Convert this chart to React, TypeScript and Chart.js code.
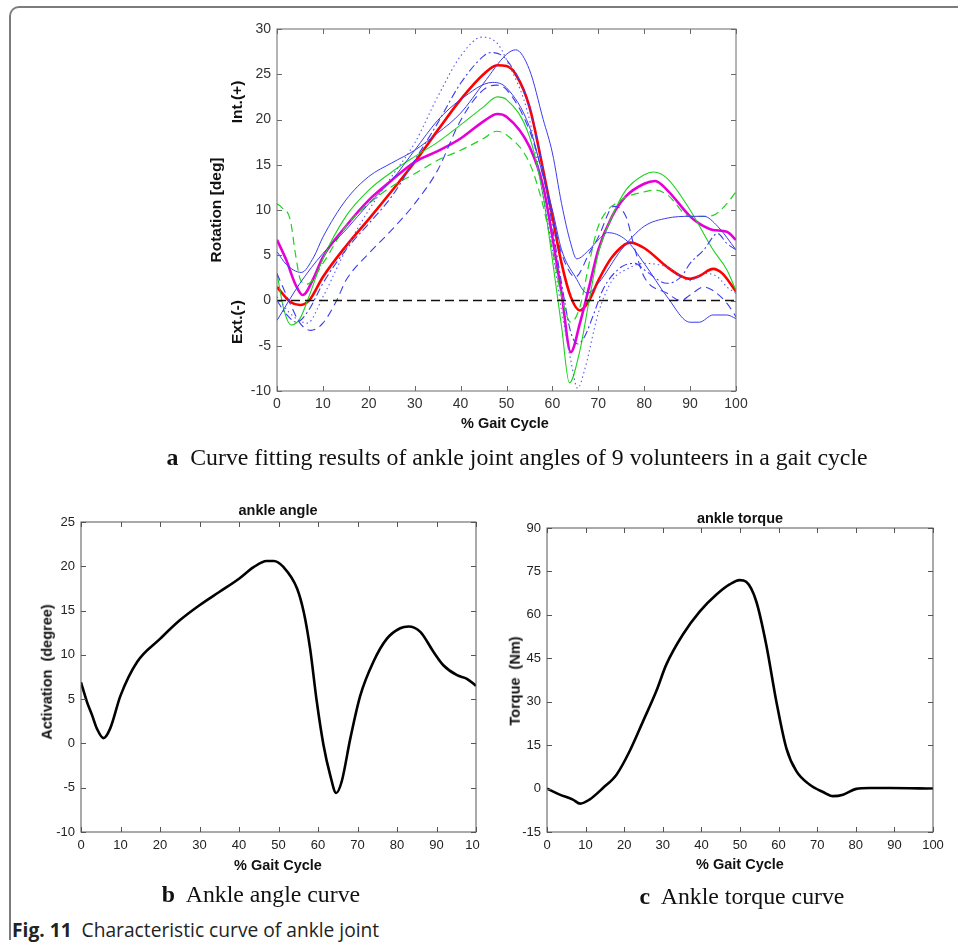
import React, { useEffect, useRef } from "react";
import { Chart, registerables } from "chart.js";
Chart.register(...registerables);

// ---------------- Panel a: 9 volunteer curves ----------------
const redX = [0, 3, 5, 7, 10, 15, 20, 25, 30, 35, 40, 45, 48, 50, 52, 55, 58, 60, 62, 64, 66, 68, 70, 73, 77, 80, 85, 88, 90, 92, 95, 97, 100];
const redY = [1.5, -0.2, -0.5, 0, 2.6, 6, 9, 12.1, 15.3, 18.8, 22.2, 25, 26, 25.9, 25, 21.4, 14.4, 9.3, 4.1, 0.4, -1.1, 0, 2.2, 4.8, 6.4, 5.8, 3.7, 2.7, 2.4, 2.7, 3.5, 3, 1];

const magentaX = [0, 2, 4, 5.6, 8, 10, 15, 20, 25, 30, 35, 40, 45, 48, 50, 55, 58, 60, 62, 64, 66, 68, 70, 73, 76, 80, 82.4, 85, 90, 92, 95, 98, 100];
const magentaY = [6.7, 4.5, 1.8, 0.6, 2.5, 4.8, 8.2, 11.1, 13.3, 15.3, 16.5, 17.9, 19.8, 20.6, 20.3, 17, 12.6, 7, 0.8, -5.7, -2.5, 1.5, 5.6, 9.3, 11.5, 12.9, 13.2, 12.2, 9.3, 8.5, 7.8, 7.6, 6.7];

const greenSolidX = [0, 1.5, 3.1, 5, 7, 10, 15, 20, 25, 30, 35, 40, 45, 48, 50, 55, 58, 60, 62, 63.7, 66, 68, 70, 73, 76, 80, 82, 85, 90, 95, 98, 100];
const greenSolidY = [3, -1, -2.7, -2, 0.5, 4.6, 9.3, 12.2, 14.2, 15.9, 17.5, 19.4, 21.4, 22.5, 22.2, 18.1, 11.5, 4.5, -2.9, -9.1, -5.5, 0, 5.2, 9.3, 12.2, 13.9, 14.2, 13.5, 10, 5.6, 3.4, 1.1];

const greenDashX = [0, 1, 2.9, 4, 5.1, 6.5, 10, 15, 20, 25, 30, 35, 40, 45, 47.8, 50, 55, 58, 60, 62, 64, 66, 68, 70, 75, 80, 82.4, 85, 90, 93, 95, 98, 100];
const greenDashY = [10.7, 10.3, 8.9, 5.2, 2.3, 1.8, 4.1, 8.2, 10.7, 12.6, 14, 15.5, 16.6, 17.9, 18.7, 18.3, 15.2, 10.4, 5.6, 0.4, -2.4, -0.7, 4.1, 8.2, 11.1, 12, 12.2, 11.7, 9.3, 9.3, 9.4, 10.7, 12];

const blueSolid1X = [0, 2, 5.3, 8, 10, 15, 20, 25, 30, 35, 40, 45, 50, 52, 55, 58, 60, 62, 64, 65.3, 68, 70, 72, 76, 80, 85, 90, 92, 95, 98, 100];
const blueSolid1Y = [5.4, 4, 3.1, 4.8, 7, 11.1, 13.7, 15.2, 16.6, 18.5, 20.7, 24, 27.2, 27.7, 25.5, 20, 16.3, 10.7, 6.3, 4.6, 5.6, 6.7, 7.5, 6.7, 4.1, 0.4, -2.4, -2.4, -1.6, -1.6, -2];

const blueSolid2X = [0, 5, 10, 15, 20, 25, 30, 35, 40, 47, 50, 55, 58, 60, 62, 65, 67.6, 70, 75, 80, 85, 90, 93, 96, 100];
const blueSolid2Y = [-2.2, 1.9, 5.2, 7.8, 10.7, 13.3, 16.6, 19.9, 22.2, 24.1, 23.5, 19.2, 13.7, 10, 5.6, 2.6, 0.8, 1.9, 5.6, 8.2, 9.1, 9.3, 9.3, 8.2, 5.6];

const blueDashX = [0, 3, 5, 7.4, 10, 13, 15, 20, 25, 30, 35, 40, 45, 47.8, 50, 55, 58, 60, 62, 65, 68, 70, 73.4, 76, 78, 80, 85, 88, 90, 93, 95, 98, 100];
const blueDashY = [3, -0.5, -2.5, -3.3, -2.5, 0, 2.2, 5.2, 7.8, 10.7, 14.4, 19.9, 23.3, 23.8, 23.3, 18.8, 13.7, 9.3, 5.2, 2.6, 5.2, 7, 10.4, 9.3, 5.6, 2.6, 0.8, 0, 0.6, 1.5, 1.1, -0.3, -1.8];

const blueDashDotX = [0, 2, 4.3, 7, 10, 15, 20, 25, 30, 35, 40, 45, 46.6, 50, 55, 58, 60, 62, 64, 65.5, 67, 69, 71, 75, 78, 80, 85, 88, 90, 93, 96, 98, 100];
const blueDashDotY = [0, -1.5, -2.4, -1, 1.9, 5.6, 8.5, 11.5, 15.5, 19.6, 24, 27, 27.4, 26.6, 21.4, 14.4, 8.2, 1.9, -3.5, -4.8, -4, -1.5, 1.2, 3.7, 4.1, 3.4, 1.9, 2.6, 4.1, 5.6, 7.4, 6.3, 5.6];

const blueDotX = [0, 3, 6.6, 10, 15, 20, 25, 30, 35, 40, 44.7, 48, 50, 55, 58, 60, 62, 64, 65.5, 67, 70, 73, 76, 80, 85, 90, 93, 96, 98, 100];
const blueDotY = [0.4, -1.5, -2.5, 0.4, 5.6, 10, 13.7, 17.4, 22.5, 27, 29.1, 28.4, 26.6, 20, 11.5, 5.6, -1.1, -6.6, -9.7, -7.7, -1.4, 2.2, 3.4, 4.1, 3.7, 2.2, 3, 2.6, 1.5, 0.8];

const zeroLineX = [0, 100];
const zeroLineY = [0, 0];

const rotationTicks = { min: -10, max: 30, step: 5 };

// ---------------- Panel b: ankle angle ----------------
const angleX = [0, 1.5, 2.8, 4, 5.7, 7.4, 10, 14.2, 20, 25, 30, 35, 40, 43.7, 47, 48.8, 51.3, 54.7, 56.4, 58, 59.7, 61.4, 63.1, 64.6, 66, 68.2, 70.7, 74, 77.4, 80.8, 82.9, 85.9, 89.3, 91.8, 95.2, 97.7, 100];
const angleY = [6.9, 4.7, 3.2, 1.7, 0.6, 1.7, 5.4, 9.2, 11.8, 13.9, 15.6, 17.1, 18.6, 19.9, 20.6, 20.6, 19.9, 17.5, 14.8, 10.7, 4.7, -0.2, -3.6, -5.6, -4.3, 0.6, 5.4, 9.2, 11.8, 13, 13.2, 12.6, 10.3, 8.8, 7.7, 7.3, 6.5];
const angleTicks = { min: -10, max: 25, step: 5 };

// ---------------- Panel c: ankle torque ----------------
const torqueX = [0, 3.3, 6.7, 8.6, 11, 14.5, 18, 21.4, 24.9, 28.3, 30.9, 35.2, 39.6, 43.9, 47.3, 49.9, 51.6, 54.2, 56.8, 59.4, 62, 64.6, 68, 71.5, 74.1, 76.7, 80.1, 83.6, 88.8, 100];
const torqueY = [0, -2.1, -3.8, -5.2, -3.8, 0.2, 4.8, 12.9, 23.3, 33.6, 42.8, 53.2, 61.2, 67, 70.5, 72, 71.4, 64.7, 49.7, 30.2, 14, 6, 1.4, -1.2, -2.6, -2.1, -0.1, 0.2, 0.2, 0];
const torqueTicks = { min: -15, max: 90, step: 15 };

const gaitTicks = { min: 0, max: 100, step: 10 };

// ---------------- helpers ----------------
const pts = (xs: number[], ys: number[]) => xs.map((x, i) => ({ x, y: ys[i] }));

type Series = { x: number[]; y: number[]; color: string; width: number; dash: number[] };

const BLUE = "#3b3bf0";
const GREEN = "#1ed21e";
const seriesA: Series[] = [
  { x: zeroLineX, y: zeroLineY, color: "#111111", width: 1.3, dash: [9, 5] },
  { x: blueSolid1X, y: blueSolid1Y, color: BLUE, width: 1, dash: [] },
  { x: blueSolid2X, y: blueSolid2Y, color: BLUE, width: 1, dash: [] },
  { x: blueDashX, y: blueDashY, color: BLUE, width: 1.1, dash: [8, 5] },
  { x: blueDashDotX, y: blueDashDotY, color: BLUE, width: 1.1, dash: [8, 3, 2, 3] },
  { x: blueDotX, y: blueDotY, color: "#5a5af5", width: 1.1, dash: [1.5, 3] },
  { x: greenSolidX, y: greenSolidY, color: GREEN, width: 1.1, dash: [] },
  { x: greenDashX, y: greenDashY, color: GREEN, width: 1.2, dash: [8, 5] },
  { x: magentaX, y: magentaY, color: "#e600d8", width: 2.6, dash: [] },
  { x: redX, y: redY, color: "#ff0000", width: 2.6, dash: [] },
];
const seriesB: Series[] = [{ x: angleX, y: angleY, color: "#000000", width: 2.6, dash: [] }];
const seriesC: Series[] = [{ x: torqueX, y: torqueY, color: "#000000", width: 2.6, dash: [] }];

const boxTicks = {
  id: "boxTicks",
  afterDatasetsDraw(chart: any, _args: any, opts: any) {
    const { ctx, chartArea } = chart;
    const { left, right, top, bottom } = chartArea;
    const xs = chart.scales.x;
    const ys = chart.scales.y;
    const len = opts.length;
    ctx.save();
    ctx.strokeStyle = opts.color;
    ctx.lineWidth = opts.lineWidth;
    ctx.setLineDash([]);
    ctx.beginPath();
    xs.ticks.forEach((t: any) => {
      const p = Math.round(xs.getPixelForValue(t.value)) + 0.5;
      ctx.moveTo(p, bottom);
      ctx.lineTo(p, bottom - len);
      ctx.moveTo(p, top);
      ctx.lineTo(p, top + len);
    });
    ys.ticks.forEach((t: any) => {
      const p = Math.round(ys.getPixelForValue(t.value)) + 0.5;
      ctx.moveTo(left, p);
      ctx.lineTo(left + len, p);
      ctx.moveTo(right, p);
      ctx.lineTo(right - len, p);
    });
    ctx.stroke();
    ctx.strokeRect(left, top, right - left, bottom - top);
    ctx.restore();
  },
};

type PanelProps = {
  left: number;
  top: number;
  width: number;
  height: number;
  padTop: number;
  padRight: number;
  yWidth: number;
  xHeight: number;
  yRange: { min: number; max: number; step: number };
  series: Series[];
  fontSize: number;
  tickColor: string;
  frameColor: string;
  xPad: number;
  yPad: number;
};

function Panel(p: PanelProps) {
  const ref = useRef<HTMLCanvasElement | null>(null);
  useEffect(() => {
    if (!ref.current) return;
    const font = { family: "'Liberation Sans', Arial, sans-serif", size: p.fontSize };
    const chart = new Chart(ref.current, {
      type: "line",
      data: {
        datasets: p.series.map((s) => ({
          data: pts(s.x, s.y),
          borderColor: s.color,
          borderWidth: s.width,
          borderDash: s.dash,
          pointRadius: 0,
          fill: false,
          cubicInterpolationMode: "monotone",
        })),
      },
      options: {
        responsive: false,
        animation: false,
        events: [],
        layout: { padding: { top: p.padTop, right: p.padRight, left: 0, bottom: 0 }, autoPadding: false },
        plugins: {
          legend: { display: false },
          tooltip: { enabled: false },
          boxTicks: { color: p.frameColor, lineWidth: 1, length: 5 },
        },
        scales: {
          x: {
            type: "linear",
            min: gaitTicks.min,
            max: gaitTicks.max,
            ticks: { stepSize: gaitTicks.step, padding: p.xPad, color: p.tickColor, font, maxRotation: 0 },
            grid: { display: false, drawTicks: false },
            border: { display: false },
            afterFit: (s: any) => {
              s.height = p.xHeight;
              s.paddingLeft = 0;
              s.paddingRight = 0;
            },
          },
          y: {
            type: "linear",
            min: p.yRange.min,
            max: p.yRange.max,
            ticks: { stepSize: p.yRange.step, padding: p.yPad, color: p.tickColor, font },
            grid: { display: false, drawTicks: false },
            border: { display: false },
            afterFit: (s: any) => {
              s.width = p.yWidth;
              s.paddingTop = 0;
              s.paddingBottom = 0;
            },
          },
        },
      } as any,
      plugins: [boxTicks as any],
    });
    return () => chart.destroy();
  }, []);
  return (
    <canvas
      ref={ref}
      width={p.width}
      height={p.height}
      style={{ position: "absolute", left: p.left, top: p.top, width: p.width, height: p.height }}
    />
  );
}

function Txt(props: { x: number; y: number; rotate?: boolean; style?: React.CSSProperties; children: React.ReactNode }) {
  return (
    <div
      style={{
        position: "absolute",
        left: props.x,
        top: props.y,
        whiteSpace: "nowrap",
        transform: `translate(-50%, -50%)${props.rotate ? " rotate(-90deg)" : ""}`,
        lineHeight: 1,
        ...props.style,
      }}
    >
      {props.children}
    </div>
  );
}

const SANS = "'Liberation Sans', Arial, sans-serif";
const SERIF = "'Liberation Serif', 'Times New Roman', serif";

export default function App() {
  const axisA: React.CSSProperties = { fontFamily: SANS, fontWeight: "bold", fontSize: 15, color: "#111" };
  const axisBC: React.CSSProperties = { fontFamily: SANS, fontWeight: "bold", fontSize: 14.5, color: "#111" };
  const cap: React.CSSProperties = { fontFamily: SERIF, fontSize: 23.8, color: "#111" };
  return (
    <div style={{ position: "absolute", left: 0, top: 0, width: 958, height: 946, overflow: "hidden", background: "#fff" }}>
      <div
        style={{
          position: "absolute",
          left: 9,
          top: 6,
          width: 960,
          height: 934,
          boxSizing: "border-box",
          borderTop: "2px solid #7c7c7c",
          borderLeft: "2px solid #7c7c7c",
          borderTopLeftRadius: 10,
        }}
      />
      {/* panel a */}
      <Panel
        left={200}
        top={15}
        width={560}
        height={430}
        padTop={14}
        padRight={24}
        yWidth={77}
        xHeight={54}
        yRange={rotationTicks}
        series={seriesA}
        fontSize={14}
        tickColor="#333"
        frameColor="#6a6a6a"
        xPad={5}
        yPad={6}
      />
      <Txt x={505} y={423} style={{ ...axisA, fontSize: 14.5 }}>% Gait Cycle</Txt>
      <Txt x={216} y={210} rotate style={{ ...axisA, fontSize: 15.5 }}>Rotation [deg]</Txt>
      <Txt x={237} y={102} rotate style={{ ...axisA, fontSize: 15.5 }}>Int.(+)</Txt>
      <Txt x={237} y={322} rotate style={{ ...axisA, fontSize: 15.5 }}>Ext.(-)</Txt>
      <Txt x={517} y={458} style={cap}>
        <b>a</b>&nbsp; Curve fitting results of ankle joint angles of 9 volunteers in a gait cycle
      </Txt>

      {/* panel b */}
      <Panel
        left={20}
        top={495}
        width={460}
        height={385}
        padTop={27}
        padRight={4}
        yWidth={61}
        xHeight={48}
        yRange={angleTicks}
        series={seriesB}
        fontSize={13}
        tickColor="#222"
        frameColor="#555"
        xPad={6}
        yPad={6}
      />
      <Txt x={278} y={510} style={axisBC}>ankle angle</Txt>
      <Txt x={278} y={865} style={axisBC}>% Gait Cycle</Txt>
      <Txt x={47} y={672} rotate style={axisBC}>Activation&nbsp; (degree)</Txt>
      <Txt x={261} y={895} style={cap}>
        <b>b</b>&nbsp; Ankle angle curve
      </Txt>

      {/* panel c */}
      <Panel
        left={490}
        top={495}
        width={460}
        height={385}
        padTop={33}
        padRight={17}
        yWidth={57}
        xHeight={48}
        yRange={torqueTicks}
        series={seriesC}
        fontSize={13}
        tickColor="#222"
        frameColor="#555"
        xPad={6}
        yPad={6}
      />
      <Txt x={740} y={518} style={axisBC}>ankle torque</Txt>
      <Txt x={740} y={864} style={axisBC}>% Gait Cycle</Txt>
      <Txt x={515} y={681} rotate style={axisBC}>Torque&nbsp; (Nm)</Txt>
      <Txt x={742} y={897} style={cap}>
        <b>c</b>&nbsp; Ankle torque curve
      </Txt>

      {/* figure caption */}
      <div
        style={{
          position: "absolute",
          left: 12,
          top: 919,
          whiteSpace: "nowrap",
          fontFamily: "'Open Sans', 'Noto Sans', sans-serif",
          fontSize: 19.2,
          lineHeight: "22px",
          color: "#222",
        }}
      >
        <b>Fig. 11</b>&nbsp; Characteristic curve of ankle joint
      </div>
    </div>
  );
}
